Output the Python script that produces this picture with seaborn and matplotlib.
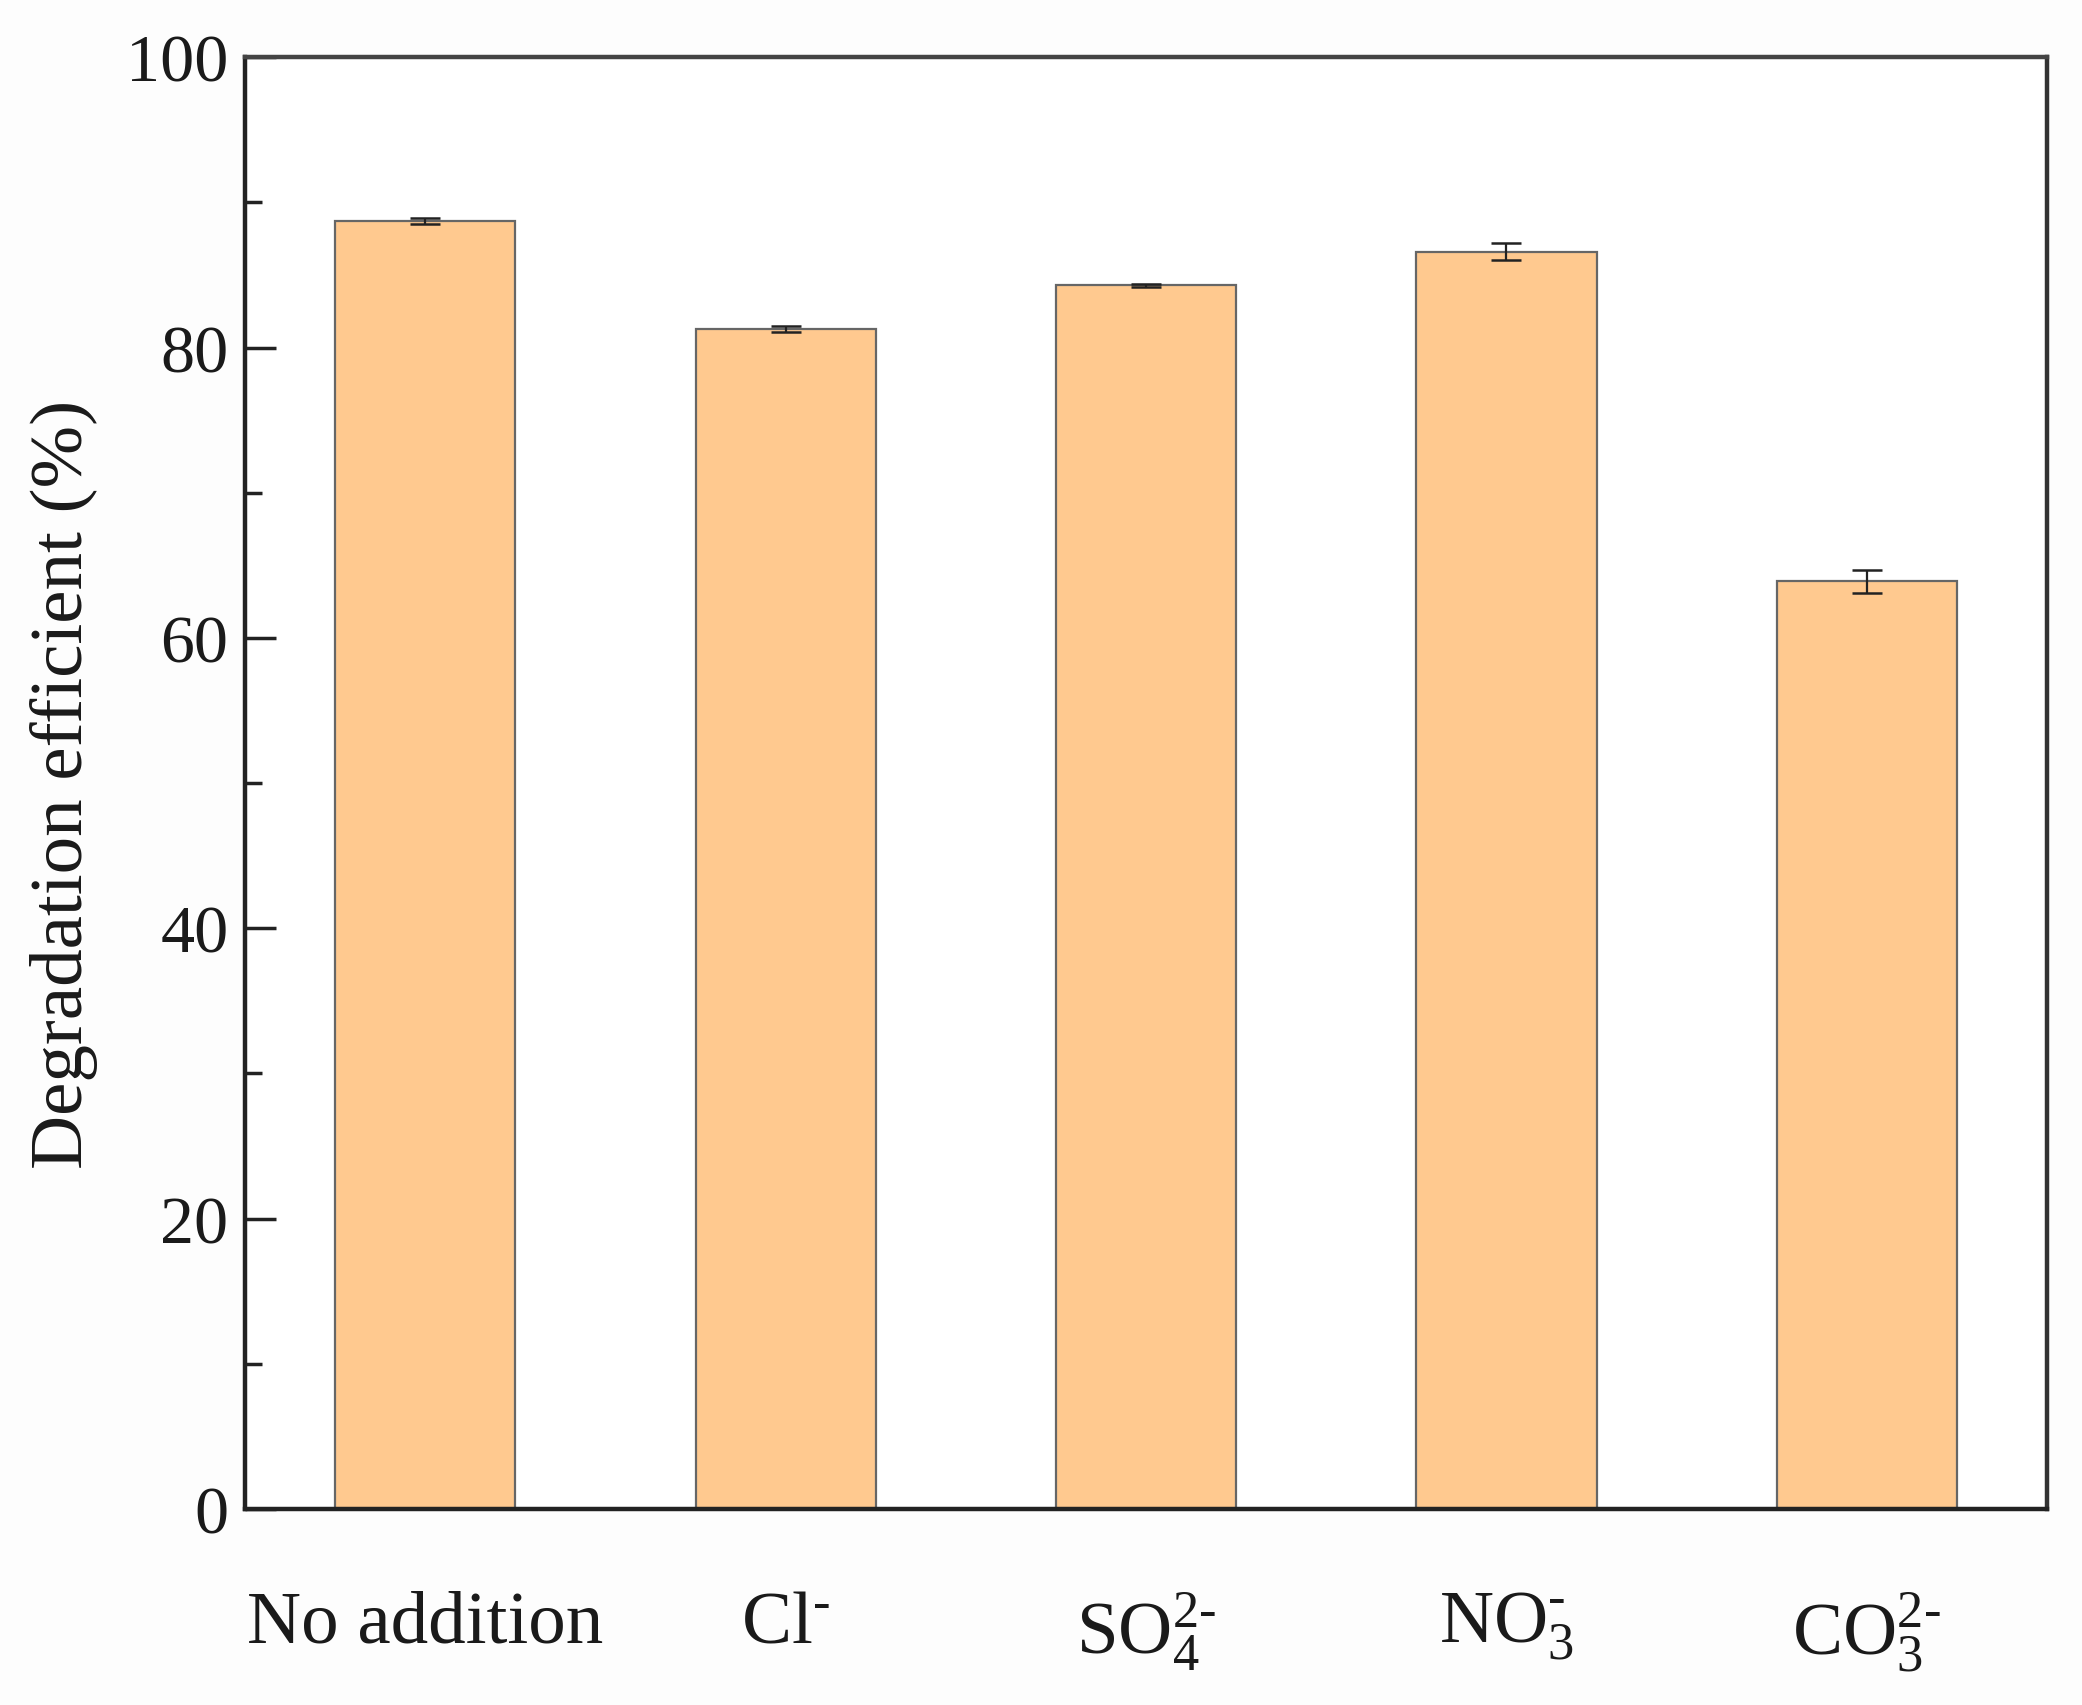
import numpy as np
import pandas as pd
import matplotlib
matplotlib.use("Agg")
import matplotlib.pyplot as plt
import seaborn as sns
from matplotlib.ticker import MultipleLocator

categories = ["No addition", r"Cl$^{\mathregular{‐}}$", r"SO$_{\mathregular{4}}^{\mathregular{2‐}}$",
              r"NO$_{\mathregular{3}}^{\mathregular{‐}}$", r"CO$_{\mathregular{3}}^{\mathregular{2‐}}$"]
values = [88.7, 81.3, 84.3, 86.6, 63.9]
errors = [0.2, 0.2, 0.1, 0.6, 0.8]
yticks = [0, 20, 40, 60, 80, 100]

sns.set_theme(style="white")
plt.rcParams["font.family"] = ["Liberation Serif", "DejaVu Serif"]
plt.rcParams["mathtext.fontset"] = "custom"
plt.rcParams["mathtext.rm"] = "Liberation Serif"
plt.rcParams["mathtext.it"] = "Liberation Serif:italic"
plt.rcParams["mathtext.bf"] = "Liberation Serif:bold"

df = pd.DataFrame({"cat": categories, "val": values})

fig = plt.figure(figsize=(20.82, 17.06), dpi=100)
ax = fig.add_axes([0.1177, 0.1149, 0.8655, 0.851])
sns.barplot(data=df, x="cat", y="val", color="#FFC98F", saturation=1, width=0.5,
            edgecolor="#666666", linewidth=1.6, errorbar=None, ax=ax)
ax.errorbar(np.arange(len(categories)), values, yerr=errors, fmt="none",
            ecolor="#222222", elinewidth=1.6, capsize=10.5, capthick=1.8)

ax.set_xlim(-0.5, len(categories) - 0.5)
ax.set_ylim(0, 100)
ax.set_yticks(yticks)
ax.yaxis.set_minor_locator(MultipleLocator(10))
ax.set_xlabel("")
ax.set_ylabel("Degradation efficient (%)", fontsize=54, labelpad=20)
ax.tick_params(axis="y", which="major", direction="in", length=22, width=2.5,
               labelsize=49, pad=12, left=True, right=False, colors="#222222")
ax.tick_params(axis="y", which="minor", direction="in", length=12, width=2.5, left=True, right=False,
               colors="#222222")
ax.tick_params(axis="x", which="major", direction="in", length=24, width=2.5,
               labelsize=54, pad=58, bottom=True, top=False, colors="#222222")
for lab in ax.get_xticklabels() + ax.get_yticklabels():
    lab.set_color("#1a1a1a")
ax.yaxis.label.set_color("#1a1a1a")
for s in ax.spines.values():
    s.set_visible(True)
    s.set_color("#222222")
    s.set_linewidth(3.2)
ax.spines["top"].set_color("#444444")
ax.spines["right"].set_color("#333333")

fig.savefig("out.png", dpi=100, facecolor="#FDFDFD")
